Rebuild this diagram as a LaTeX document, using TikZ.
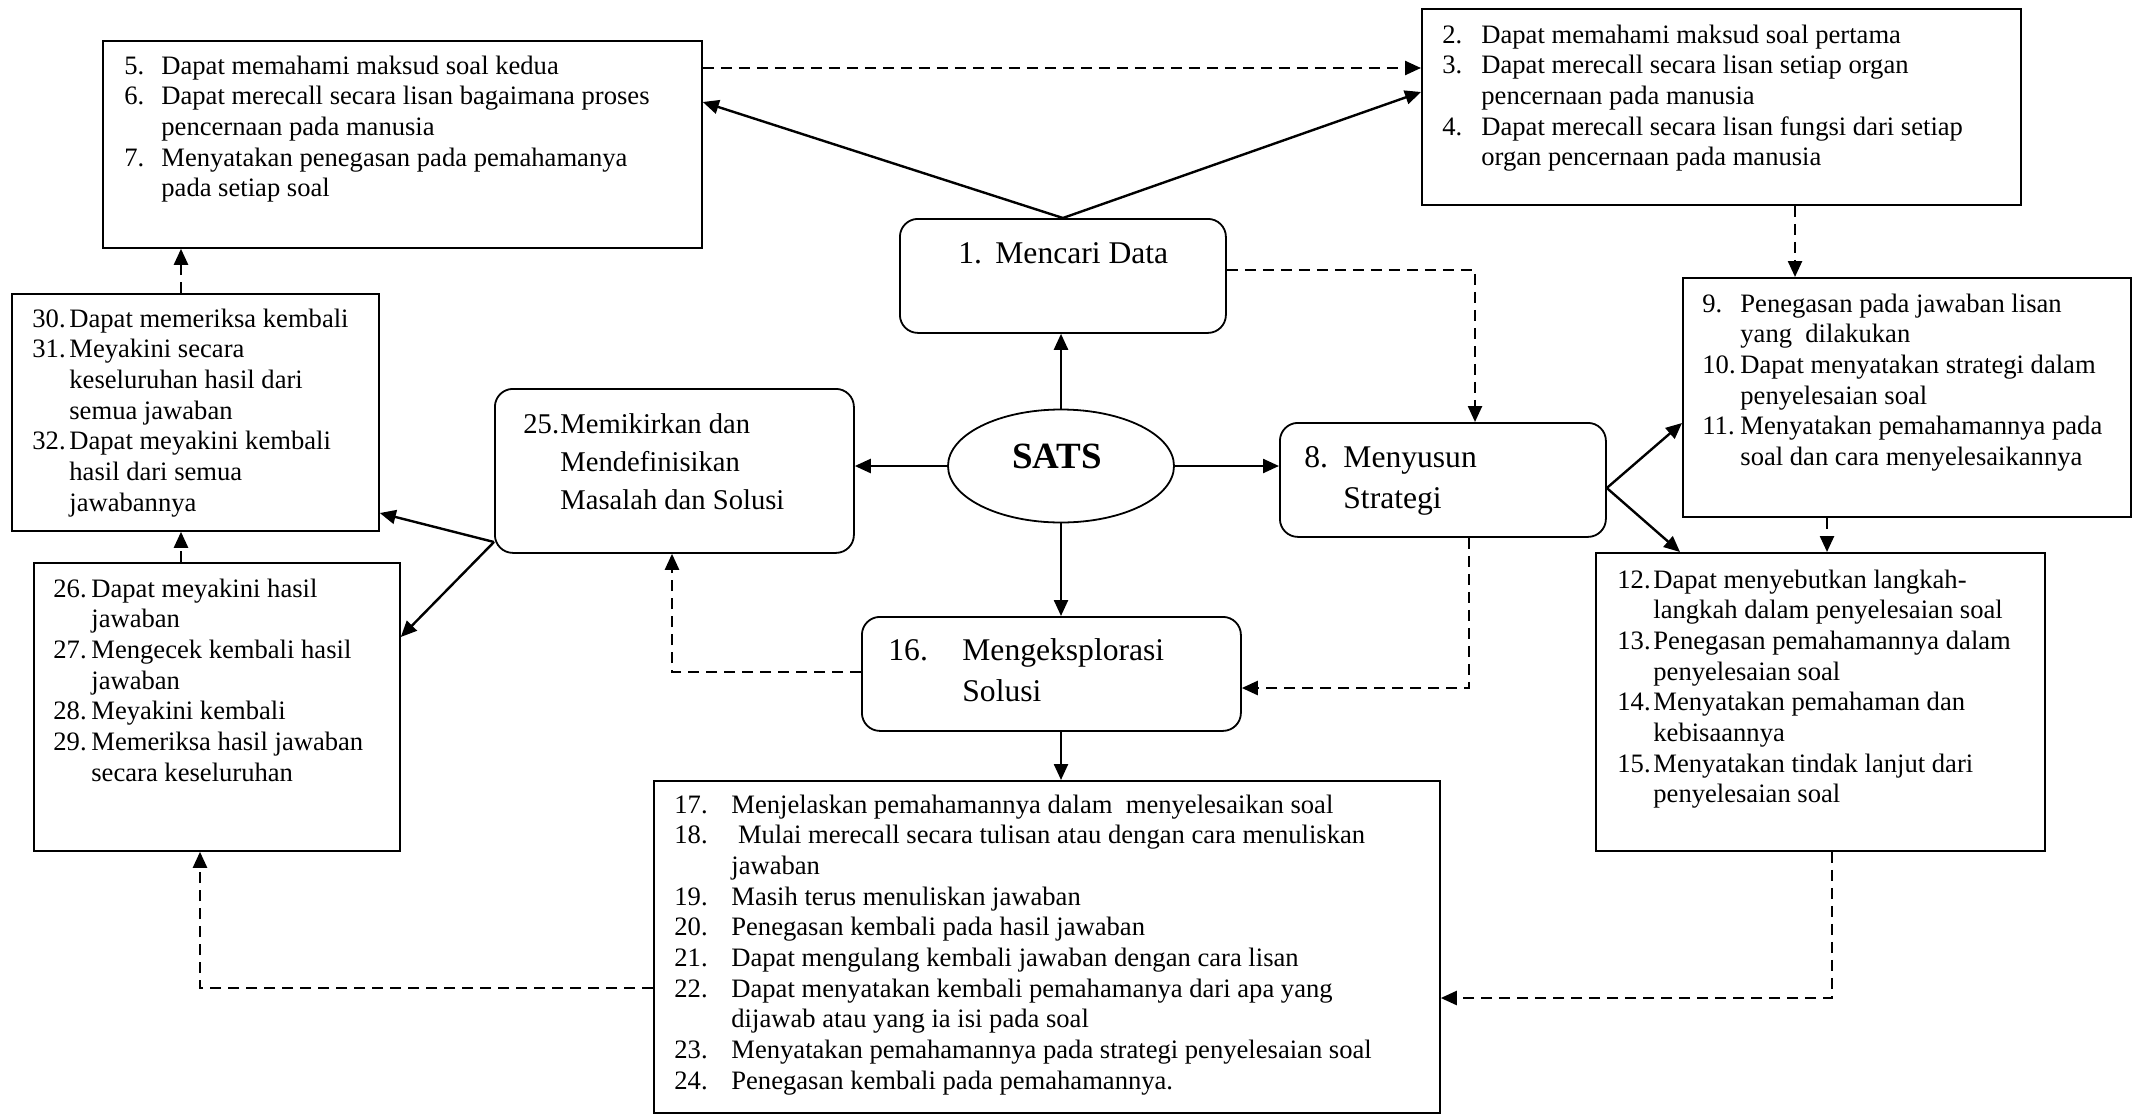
\documentclass[tikz,border=0pt]{standalone}
\usepackage{fontspec}
\setmainfont{Liberation Serif}
\usetikzlibrary{arrows.meta}
\usetikzlibrary{shapes.geometric}
\usetikzlibrary{positioning}
\usetikzlibrary{calc}
\newcommand{\itemlist}[2]{\begin{tabular}[t]{@{}p{#1}@{}l@{}}#2\end{tabular}}
\tikzset{
	>={Triangle[length=8pt,width=7pt]},
	lstbox/.style={draw, line width=0.9pt, anchor=north west, inner sep=0pt},
	rndbox/.style={draw, line width=0.9pt, rounded corners=9pt, anchor=north west, inner sep=0pt},
	lsttxt/.style={anchor=base west, inner sep=0pt, font=\fontsize{13.3}{15.35}\selectfont},
	rndtxt/.style={anchor=base west, inner sep=0pt, font=\fontsize{15.8}{20.75}\selectfont},
	con/.style={->, line width=1.2pt},
	dcon/.style={->, line width=1.2pt, dash pattern=on 5.5pt off 3.5pt},
}
\begin{document}
\begin{tikzpicture}[x=0.5pt, y=-0.5pt]
					\useasboundingbox (0,0) rectangle (2135,1114);
					% draw boxes
					\node[lstbox, minimum width=299.5pt, minimum height=103.5pt] (boxA) at (102,40) {};
					\node[lstbox, minimum width=299.5pt, minimum height=98pt] (boxB) at (1421,8) {};
					\node[rndbox, minimum width=163pt, minimum height=57pt] (mc) at (899,218) {};
					\node[ellipse, draw, line width=0.9pt, minimum width=113pt, minimum height=56.5pt] (sats) at (1061,466) {};
					\node[rndbox, minimum width=179.5pt, minimum height=82pt] (m25) at (494,388) {};
					\node[rndbox, minimum width=163pt, minimum height=57pt] (s8) at (1279,422) {};
					\node[rndbox, minimum width=189.5pt, minimum height=57pt] (e16) at (861,616) {};
					\node[lstbox, minimum width=183.5pt, minimum height=118.5pt] (b30) at (11,293) {};
					\node[lstbox, minimum width=183pt, minimum height=144pt] (b26) at (33,562) {};
					\node[lstbox, minimum width=224pt, minimum height=119.5pt] (b9) at (1682,277) {};
					\node[lstbox, minimum width=224.5pt, minimum height=149pt] (b12) at (1595,552) {};
					\node[lstbox, minimum width=393pt, minimum height=166pt] (b17) at (653,780) {};
					% texts
					\node[font=\bfseries\fontsize{18.5}{22}\selectfont, anchor=base] (satstxt) at (1057,468) {SATS};
					\node[rndtxt] (tmc) at (958,263) {\itemlist{18.5pt}{1. & Mencari Data}};
					\node[rndtxt] (ts8) at (1304,467) {\itemlist{19.5pt}{8. & Menyusun\\ & Strategi}};
					\node[rndtxt] (te16) at (888,660) {\itemlist{37pt}{16. & Mengeksplorasi\\ & Solusi}};
					\node[rndtxt, font=\fontsize{14.3}{19}\selectfont] (tm25) at (523,433) {\itemlist{18.5pt}{25. & Memikirkan dan\\ & Mendefinisikan\\ & Masalah dan Solusi}};
					\node[lsttxt] (tA) at (124,74) {\itemlist{18.5pt}{5. & Dapat memahami maksud soal kedua\\
						6. & Dapat merecall secara lisan bagaimana proses\\
						& pencernaan pada manusia\\
						7. & Menyatakan penegasan pada pemahamanya\\
						& pada setiap soal}};
					\node[lsttxt] (tB) at (1442,43) {\itemlist{19.5pt}{2. & Dapat memahami maksud soal pertama\\
						3. & Dapat merecall secara lisan setiap organ\\
						& pencernaan pada manusia\\
						4. & Dapat merecall secara lisan fungsi dari setiap\\
						& organ pencernaan pada manusia}};
					\node[lsttxt] (t30) at (32,327) {\itemlist{18.5pt}{30. & Dapat memeriksa kembali\\
						31. & Meyakini secara\\
						& keseluruhan hasil dari\\
						& semua jawaban\\
						32. & Dapat meyakini kembali\\
						& hasil dari semua\\
						& jawabannya}};
					\node[lsttxt] (t26) at (53,597) {\itemlist{19pt}{26. & Dapat meyakini hasil\\
						& jawaban\\
						27. & Mengecek kembali hasil\\
						& jawaban\\
						28. & Meyakini kembali\\
						29. & Memeriksa hasil jawaban\\
						& secara keseluruhan}};
					\node[lsttxt] (t9) at (1702,312) {\itemlist{19pt}{9. & Penegasan pada jawaban lisan\\
						& yang\ \ dilakukan\\
						10. & Dapat menyatakan strategi dalam\\
						& penyelesaian soal\\
						11. & Menyatakan pemahamannya pada\\
						& soal dan cara menyelesaikannya}};
					\node[lsttxt] (t12) at (1617,588) {\itemlist{18pt}{12. & Dapat menyebutkan langkah-\\
						& langkah dalam penyelesaian soal\\
						13. & Penegasan pemahamannya dalam\\
						& penyelesaian soal\\
						14. & Menyatakan pemahaman dan\\
						& kebisaannya\\
						15. & Menyatakan tindak lanjut dari\\
						& penyelesaian soal}};
					\node[lsttxt] (t17) at (674,813) {\itemlist{28.5pt}{17. & Menjelaskan pemahamannya dalam\ \ menyelesaikan soal\\
						18. & \ Mulai merecall secara tulisan atau dengan cara menuliskan\\
						& jawaban\\
						19. & Masih terus menuliskan jawaban\\
						20. & Penegasan kembali pada hasil jawaban\\
						21. & Dapat mengulang kembali jawaban dengan cara lisan\\
						22. & Dapat menyatakan kembali pemahamanya dari apa yang\\
						& dijawab atau yang ia isi pada soal\\
						23. & Menyatakan pemahamannya pada strategi penyelesaian soal\\
						24. & Penegasan kembali pada pemahamannya.}};
					% connector points
					\coordinate (pB) at ($(boxB.south west)+(374,0)$);
					\coordinate (p8) at ($(s8.north east)+(0,66)$);
					\coordinate (p9) at ($(b9.south west)+(145,0)$);
					\coordinate (p25) at ($(m25.north west)+(0,154)$);
					\coordinate (p26) at ($(b26.north west)+(148,0)$);
					\coordinate (p30) at ($(b30.north west)+(170,0)$);
					% solid arrows
					\draw[con] (mc.north) -- ($(boxA.north east)+(0,62)$);
					\draw[con] (mc.north) -- ($(boxB.north west)+(0,84)$);
					\draw[con] (sats.north) -- (sats.north |- mc.south);
					\draw[con] (sats.west) -- (sats.west -| m25.east);
					\draw[con] (sats.east) -- (sats.east -| s8.west);
					\draw[con] (sats.south) -- (sats.south |- e16.north);
					\draw[con] (sats.south |- e16.south) -- (sats.south |- b17.north);
					\draw[con] (p8) -- ($(b9.north west)+(0,146)$);
					\draw[con] (p8) -- ($(b12.north west)+(85,0)$);
					\draw[con] (p25) -- ($(b30.north east)+(0,220)$);
					\draw[con] (p25) -- ($(b26.north east)+(0,75)$);
					% dashed arrows
					\draw[dcon] ($(boxA.north east)+(0,28)$) -- ($(boxB.north west)+(0,60)$);
					\draw[dcon] (pB) -- (pB |- b9.north);
					\draw[dcon] ($(mc.north east)+(0,52)$) -| ($(s8.north west)+(196,0)$);
					\draw[dcon] (p9) -- (p9 |- b12.north);
					\draw[dcon] ($(b12.south west)+(237,0)$) |- ($(b17.north east)+(0,218)$);
					\draw[dcon] ($(s8.south west)+(190,0)$) |- ($(e16.north east)+(0,72)$);
					\draw[dcon] ($(e16.north west)+(0,56)$) -| ($(m25.south west)+(178,0)$);
					\draw[dcon] (p26) -- (p26 |- b30.south);
					\draw[dcon] (p30) -- (p30 |- boxA.south);
					\draw[dcon] ($(b17.north west)+(0,208)$) -| ($(b26.south west)+(167,0)$);
\end{tikzpicture}
\end{document}
